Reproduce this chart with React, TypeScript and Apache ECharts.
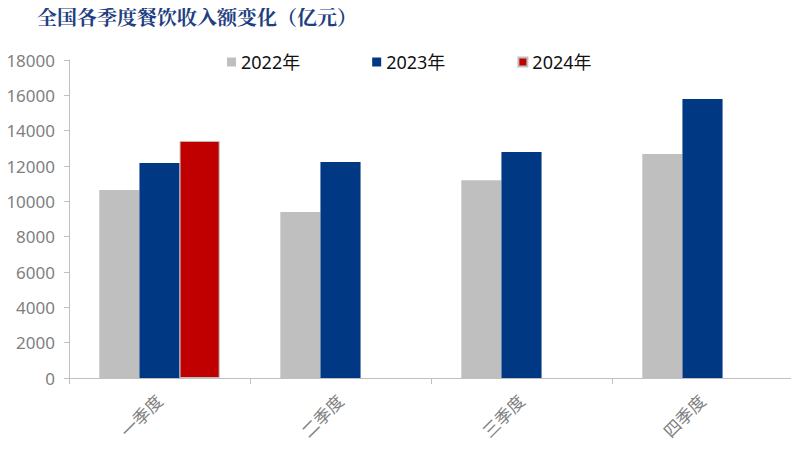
import React, { useEffect, useRef } from "react";
import * as echarts from "echarts";

const categories = ["一季度", "二季度", "三季度", "四季度"];
const s2022 = [10640, 9390, 11200, 12680];
const s2023 = [12170, 12220, 12790, 15790];
const s2024: (number | null)[] = [13420, null, null, null];
const seriesNames = ["2022年", "2023年", "2024年"];
const colors = ["#BFBFBF", "#003884", "#C00000"];

export default function App() {
  const ref = useRef<HTMLDivElement>(null);
  useEffect(() => {
    const chart = echarts.init(ref.current!, null, { renderer: "svg" });
    const font = "'Noto Sans', 'Noto Sans CJK SC', sans-serif";
    chart.setOption({
      animation: false,
      title: {
        text: "全国各季度餐饮收入额变化（亿元）",
        left: 32,
        top: 1,
        textStyle: {
          color: "#1F3F82",
          fontSize: 20,
          fontWeight: "bold",
          fontFamily: "'Noto Serif CJK SC', 'Noto Sans CJK SC', serif",
        },
      },
      legend: {
        left: 222,
        top: 48,
        itemWidth: 9,
        itemHeight: 9,
        itemGap: 72,
        icon: "rect",
        textStyle: { fontSize: 18, color: "#111", fontFamily: font },
        data: seriesNames,
      },
      grid: { left: 69, right: 6, top: 60, bottom: 72, containLabel: false },
      xAxis: {
        type: "category",
        data: categories,
        axisLine: { lineStyle: { color: "#BFBFBF" } },
        axisTick: { show: true, length: 6, lineStyle: { color: "#BFBFBF" } },
        axisLabel: {
          rotate: 45,
          color: "#7F7F7F",
          fontSize: 17,
          fontFamily: font,
          margin: 20,
        },
      },
      yAxis: {
        type: "value",
        min: 0,
        max: 18000,
        interval: 2000,
        splitLine: { show: false },
        axisLine: { show: true, lineStyle: { color: "#BFBFBF" } },
        axisTick: { show: true, length: 5, inside: false, lineStyle: { color: "#BFBFBF" } },
        axisLabel: {
          color: "#7F7F7F",
          fontSize: 17,
          fontFamily: font,
          margin: 14,
          formatter: (v: number) => String(v),
        },
      },
      series: [
        {
          name: seriesNames[0],
          type: "bar",
          data: s2022,
          itemStyle: { color: colors[0] },
          barGap: "0%",
          barCategoryGap: "33.5%",
        },
        {
          name: seriesNames[1],
          type: "bar",
          data: s2023,
          itemStyle: { color: colors[1] },
          barGap: "0%",
          barCategoryGap: "33.5%",
        },
        {
          name: seriesNames[2],
          type: "bar",
          data: s2024,
          itemStyle: { color: colors[2], borderColor: "#BFBFBF", borderWidth: 1 },
          barGap: "0%",
          barCategoryGap: "33.5%",
        },
      ],
    });
    return () => chart.dispose();
  }, []);
  return <div ref={ref} style={{ width: 799, height: 450, margin: -8 }} />;
}
